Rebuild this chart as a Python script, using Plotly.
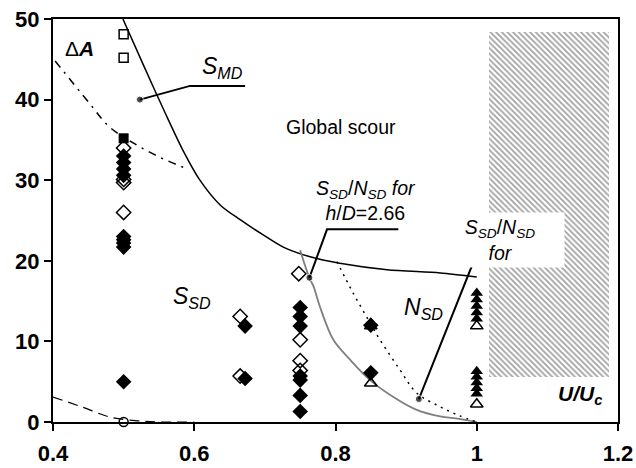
import plotly.graph_objects as go

# ---- measured points (U/Uc, ΔA) ----
open_sq_x = [0.5, 0.5]
open_sq_y = [48.1, 45.2]

filled_sq_x = [0.5]
filled_sq_y = [35.2]

open_circle_x = [0.5]
open_circle_y = [0.0]

filled_dia_x = [0.5, 0.5, 0.5, 0.5, 0.5, 0.5, 0.5, 0.5, 0.5,
                0.672, 0.672,
                0.75, 0.75, 0.75, 0.75, 0.75, 0.75, 0.75,
                0.85, 0.85]
filled_dia_y = [33.0, 32.2, 31.4, 30.6, 23.0, 22.6, 22.2, 21.7, 5.0,
                11.9, 5.4,
                14.2, 13.1, 11.9, 5.7, 5.2, 3.3, 1.3,
                12.0, 6.1]

open_dia_x = [0.5, 0.5, 0.5, 0.5, 0.665, 0.665, 0.748, 0.75, 0.75, 0.75]
open_dia_y = [34.0, 30.1, 29.7, 26.0, 13.1, 5.7, 18.4, 10.2, 7.6, 6.4]

filled_tri_x = [0.85, 1.0, 1.0, 1.0, 1.0, 1.0, 1.0, 1.0, 1.0, 1.0, 1.0]
filled_tri_y = [12.3, 16.0, 15.2, 14.4, 13.6, 12.8, 6.3, 5.6, 4.9, 4.2, 3.5]

open_tri_x = [0.85, 0.85, 1.0, 1.0]
open_tri_y = [11.9, 4.8, 11.9, 2.2]

# ---- boundary curves ----
smd_x = [0.499, 0.530, 0.559, 0.584, 0.608, 0.637, 0.665, 0.696, 0.726,
         0.764, 0.806, 0.873, 0.948, 1.000]
smd_y = [50.0, 43.9, 38.3, 33.7, 30.0, 26.9, 25.1, 23.3, 21.7,
         20.5, 19.7, 18.9, 18.5, 18.0]

hd_x = [0.750, 0.763, 0.769, 0.778, 0.797, 0.821, 0.849, 0.882, 0.915,
        0.948, 0.975, 1.000]
hd_y = [21.3, 17.9, 16.8, 14.3, 10.2, 7.7, 5.2, 3.1, 1.5, 0.7, 0.4, 0.0]

nsd_x = [0.802, 0.825, 0.849, 0.863, 0.891, 0.915, 0.948, 0.975, 1.000]
nsd_y = [19.9, 16.0, 12.3, 10.2, 6.5, 3.6, 1.9, 0.8, 0.0]

upper_x = [0.403, 0.452, 0.480, 0.516, 0.550, 0.590]
upper_y = [44.8, 39.5, 36.6, 34.5, 32.9, 31.4]

lower_x = [0.400, 0.440, 0.481, 0.520, 0.547, 0.600]
lower_y = [3.1, 1.9, 0.6, 0.15, 0.0, 0.0]

# hatched region (U/Uc > 1)
hatch_x0, hatch_x1 = 1.017, 1.187
hatch_y0, hatch_y1 = 5.6, 48.4

# callout leader lines: (dot, elbow, end)
callouts = [
    ([0.523, 0.594, 0.672], [40.0, 41.7, 41.7]),
    ([0.763, 0.788, 0.889], [17.9, 23.9, 23.9]),
    ([0.918, 0.993, 1.094], [2.85, 19.35, 19.35]),
]

FONT = "Liberation Sans, Arial, sans-serif"

fig = go.Figure()

fig.add_trace(go.Bar(
    x=[(hatch_x0 + hatch_x1) / 2], y=[hatch_y1 - hatch_y0], base=[hatch_y0],
    width=[hatch_x1 - hatch_x0],
    marker=dict(color="white", line=dict(width=0),
                pattern=dict(shape="\\", fgcolor="#444444", bgcolor="white",
                             size=4, solidity=0.45)),
    hoverinfo="skip", showlegend=False))

fig.add_trace(go.Scatter(x=lower_x, y=lower_y, mode="lines",
                         line=dict(color="black", width=1.2, dash="10px,6px", shape="spline")))
fig.add_trace(go.Scatter(x=upper_x, y=upper_y, mode="lines",
                         line=dict(color="black", width=1.5, dash="8px,6px,2px,6px", shape="spline")))
fig.add_trace(go.Scatter(x=smd_x, y=smd_y, mode="lines",
                         line=dict(color="black", width=1.5, shape="spline", smoothing=0.8)))
fig.add_trace(go.Scatter(x=hd_x, y=hd_y, mode="lines",
                         line=dict(color="#7f7f7f", width=1.8, shape="spline")))
fig.add_trace(go.Scatter(x=nsd_x, y=nsd_y, mode="lines",
                         line=dict(color="black", width=1.5, dash="2px,5px", shape="spline")))

for cx, cy in callouts:
    fig.add_trace(go.Scatter(x=cx, y=cy, mode="lines+markers",
                             line=dict(color="black", width=2),
                             marker=dict(color="black", size=[7, 0, 0])))

def markers(x, y, symbol, size, lw=1.5):
    fig.add_trace(go.Scatter(x=x, y=y, mode="markers", cliponaxis=False,
                             marker=dict(symbol=symbol, size=size, color="black",
                                         line=dict(color="black", width=lw))))

markers(filled_dia_x, filled_dia_y, "diamond", 12, 0)
markers(filled_sq_x, filled_sq_y, "square", 10, 0)
markers(filled_tri_x, filled_tri_y, "triangle-up", 11, 0)
markers(open_dia_x, open_dia_y, "diamond-open", 11)
markers(open_sq_x, open_sq_y, "square-open", 9)
markers(open_tri_x, open_tri_y, "triangle-up-open", 11)
markers(open_circle_x, open_circle_y, "circle-open", 9)

def label(x, y, text, size, **kw):
    fig.add_annotation(x=x, y=y, text=text, showarrow=False,
                       font=dict(family=FONT, size=size, color="black"), **kw)

label(0.437, 46.3, "Δ<b><i>A</i></b>", 21)
label(0.640, 44.0, "<i>S</i><sub><i>MD</i></sub>", 23)
label(0.808, 36.6, "Global scour", 19.5)
label(0.843, 27.5,
      "<i>S</i><sub><i>SD</i></sub>/<i>N</i><sub><i>SD</i></sub> <i>for</i><br>"
      "<i>h</i>/<i>D</i>=2.66", 19.5)
label(1.033, 22.6,
      "<i>S</i><sub><i>SD</i></sub>/<i>N</i><sub><i>SD</i></sub><br><i>for</i>", 19.5,
      bgcolor="white", width=126, height=52)
label(0.597, 15.5, "<i>S</i><sub><i>SD</i></sub>", 23)
label(0.925, 14.1, "<i>N</i><sub><i>SD</i></sub>", 23)
label(1.146, 3.3, "<b><i>U/U</i></b><sub><b><i>c</i></b></sub>", 21)

axis_common = dict(showgrid=False, zeroline=False, showline=True, linecolor="black",
                   linewidth=2, mirror=True, ticks="outside", ticklen=7,
                   tickwidth=2, tickcolor="black", automargin=False,
                   tickfont=dict(family=FONT, size=22, color="black"))

fig.update_xaxes(range=[0.4, 1.2], tickvals=[0.4, 0.6, 0.8, 1.0, 1.2],
                 ticktext=["<b>0.4</b>", "<b>0.6</b>", "<b>0.8</b>", "<b>1</b>", "<b>1.2</b>"],
                 ticklabelstandoff=4, **axis_common)
fig.update_yaxes(range=[0, 50], tickvals=[0, 10, 20, 30, 40, 50],
                 ticktext=[f"<b>{v}</b>" for v in [0, 10, 20, 30, 40, 50]],
                 **axis_common)

fig.update_layout(width=636, height=468, showlegend=False,
                  margin=dict(l=53, r=18, t=19, b=46),
                  plot_bgcolor="white", paper_bgcolor="white", bargap=0)

fig.write_html("out.html")
